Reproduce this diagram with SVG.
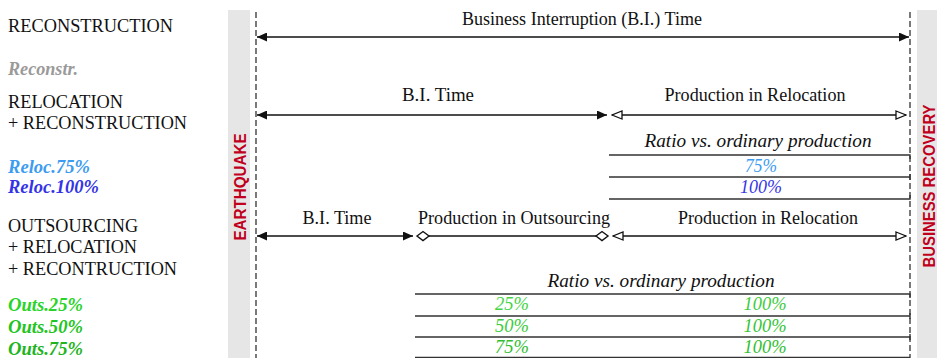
<svg xmlns="http://www.w3.org/2000/svg" width="937" height="358" viewBox="0 0 937 358" font-family="Liberation Serif, DejaVu Serif, serif">
<style>
.lbl{font-size:18px;fill:#111}
.it{font-size:18px;font-style:italic}
.bi{font-size:18px;font-style:italic;font-weight:bold}
.side{font-family:"Liberation Sans",Arial,sans-serif;font-size:16px;font-weight:bold;fill:#c0001c}
.ax{stroke:#111;stroke-width:1.5;fill:none}
.tb{stroke:#333;stroke-width:1.4;fill:none}
.dash{stroke:#333;stroke-width:1.3;stroke-dasharray:6,3;fill:none}
.bar{fill:#e6e6e6}
.mid{text-anchor:middle}
</style>
<defs>
<marker id="fa" viewBox="0 0 10 9" refX="10" refY="4.5" markerWidth="10" markerHeight="9" markerUnits="userSpaceOnUse" orient="auto-start-reverse">
<path d="M0,0 L10,4.5 L0,9 z" fill="#111"/>
</marker>
<marker id="oa" viewBox="0 0 12 10" refX="11" refY="5" markerWidth="12" markerHeight="10" markerUnits="userSpaceOnUse" orient="auto-start-reverse">
<path d="M1,1 L11,5 L1,9 z" fill="#fff" stroke="#111" stroke-width="1.3"/>
</marker>
</defs>

<g id="bars">
<rect class="bar" x="228" y="10" width="22" height="348"/>
<rect class="bar" x="917" y="10" width="20" height="348"/>
<line class="dash" x1="256" y1="12" x2="256" y2="358"/>
<line class="dash" x1="910" y1="12" x2="910" y2="358"/>
<text class="side mid" transform="translate(245.5,187) rotate(-90)" textLength="107" lengthAdjust="spacingAndGlyphs">EARTHQUAKE</text>
<text class="side mid" transform="translate(934.5,186) rotate(-90)" textLength="163" lengthAdjust="spacingAndGlyphs">BUSINESS RECOVERY</text>
</g>

<g id="legend-reconstruction">
<text class="lbl" x="8" y="32" textLength="165" lengthAdjust="spacingAndGlyphs">RECONSTRUCTION</text>
<text class="bi" x="8" y="75" fill="#9a9a9a" textLength="70" lengthAdjust="spacingAndGlyphs">Reconstr.</text>
</g>
<g id="legend-relocation">
<text class="lbl" x="8" y="108" textLength="115" lengthAdjust="spacingAndGlyphs">RELOCATION</text>
<text class="lbl" x="8" y="129" textLength="179" lengthAdjust="spacingAndGlyphs">+ RECONSTRUCTION</text>
<text class="bi" x="8" y="173" fill="#3d9bf0" textLength="82" lengthAdjust="spacingAndGlyphs">Reloc.75%</text>
<text class="bi" x="8" y="193" fill="#3434e6" textLength="91" lengthAdjust="spacingAndGlyphs">Reloc.100%</text>
</g>
<g id="legend-outsourcing">
<text class="lbl" x="8" y="232" textLength="130" lengthAdjust="spacingAndGlyphs">OUTSOURCING</text>
<text class="lbl" x="8" y="253" textLength="129" lengthAdjust="spacingAndGlyphs">+ RELOCATION</text>
<text class="lbl" x="8" y="275" textLength="169" lengthAdjust="spacingAndGlyphs">+ RECONTRUCTION</text>
<text class="bi" x="8" y="311" fill="#28d428" textLength="75" lengthAdjust="spacingAndGlyphs">Outs.25%</text>
<text class="bi" x="8" y="333" fill="#22c422" textLength="75" lengthAdjust="spacingAndGlyphs">Outs.50%</text>
<text class="bi" x="8" y="355" fill="#1fb41f" textLength="75" lengthAdjust="spacingAndGlyphs">Outs.75%</text>
</g>

<g id="row-reconstruction">
<text class="lbl mid" x="582" y="25" textLength="240" lengthAdjust="spacingAndGlyphs">Business Interruption (B.I.) Time</text>
</g>
<g id="row-relocation">
<text class="lbl mid" x="438" y="101" textLength="72" lengthAdjust="spacingAndGlyphs">B.I. Time</text>
<text class="lbl mid" x="755" y="101" textLength="181" lengthAdjust="spacingAndGlyphs">Production in Relocation</text>
<text class="it mid" x="758" y="147" fill="#111" textLength="227" lengthAdjust="spacingAndGlyphs">Ratio vs. ordinary production</text>
<text class="it mid" x="761" y="172" fill="#3d9bf0" textLength="32" lengthAdjust="spacingAndGlyphs">75%</text>
<text class="it mid" x="761" y="193" fill="#3434e6" textLength="42" lengthAdjust="spacingAndGlyphs">100%</text>
</g>
<g id="row-outsourcing">
<text class="lbl mid" x="337" y="224" textLength="69" lengthAdjust="spacingAndGlyphs">B.I. Time</text>
<text class="lbl mid" x="514" y="224" textLength="192" lengthAdjust="spacingAndGlyphs">Production in Outsourcing</text>
<text class="lbl mid" x="768" y="224" textLength="180" lengthAdjust="spacingAndGlyphs">Production in Relocation</text>
<text class="it mid" x="661" y="287" fill="#111" textLength="227" lengthAdjust="spacingAndGlyphs">Ratio vs. ordinary production</text>
<text class="it mid" x="512" y="310" fill="#44d444" textLength="34" lengthAdjust="spacingAndGlyphs">25%</text>
<text class="it mid" x="512" y="332" fill="#3ccc3c" textLength="34" lengthAdjust="spacingAndGlyphs">50%</text>
<text class="it mid" x="512" y="353" fill="#30be30" textLength="34" lengthAdjust="spacingAndGlyphs">75%</text>
<text class="it mid" x="765" y="310" fill="#3ccc3c" textLength="43" lengthAdjust="spacingAndGlyphs">100%</text>
<text class="it mid" x="765" y="332" fill="#36c436" textLength="43" lengthAdjust="spacingAndGlyphs">100%</text>
<text class="it mid" x="765" y="353" fill="#30be30" textLength="43" lengthAdjust="spacingAndGlyphs">100%</text>
</g>

<g id="connectors">
<line class="ax" x1="257" y1="37" x2="909" y2="37" marker-start="url(#fa)" marker-end="url(#fa)"/>
<line class="ax" x1="257" y1="115" x2="607" y2="115" marker-start="url(#fa)" marker-end="url(#fa)"/>
<line class="ax" x1="612" y1="115" x2="906" y2="115" marker-start="url(#oa)" marker-end="url(#oa)"/>
<line class="ax" x1="257" y1="236" x2="413" y2="236" marker-start="url(#fa)" marker-end="url(#fa)"/>
<line class="ax" x1="429" y1="236" x2="596" y2="236"/>
<polygon points="417,236 423,231.5 429,236 423,240.5" fill="#fff" stroke="#111" stroke-width="1.4"/>
<polygon points="596,236 602,231.5 608,236 602,240.5" fill="#fff" stroke="#111" stroke-width="1.4"/>
<line class="ax" x1="613" y1="236" x2="906" y2="236" marker-start="url(#oa)" marker-end="url(#oa)"/>
</g>

<g id="table-relocation">
<path class="tb" d="M609,155 H910 V159 M609,177 H910 M910,174 V180 M609,199 H910 V195"/>
</g>
<g id="table-outsourcing">
<path class="tb" d="M415,294 H910 V298 M415,316 H910 M910,313 V319 M415,337 H910 M910,334 V340 M415,357.5 H910"/>
</g>
</svg>
